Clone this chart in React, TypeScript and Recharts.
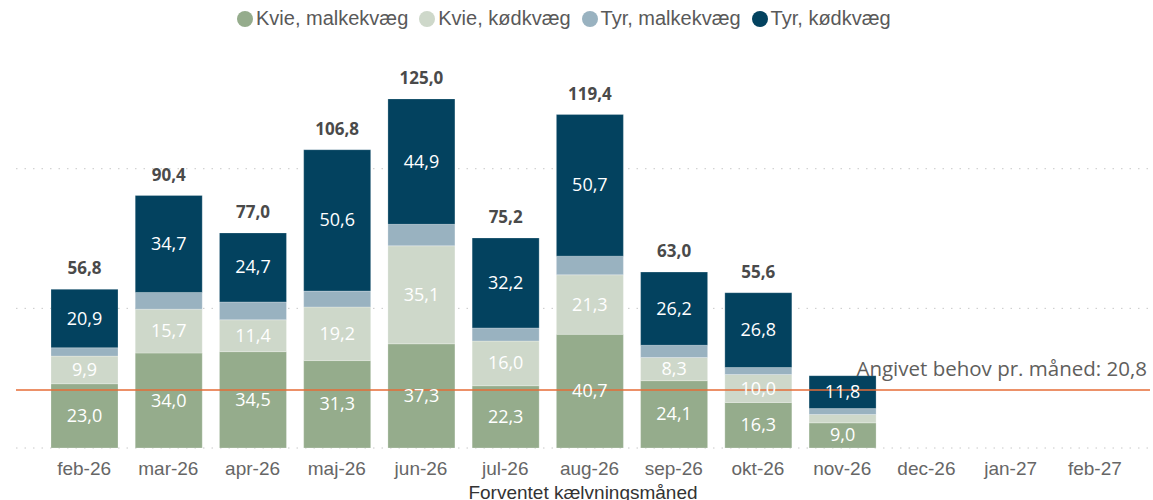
import { BarChart, Bar, XAxis, YAxis, CartesianGrid, ReferenceLine, LabelList } from 'recharts';

const months = ['feb-26', 'mar-26', 'apr-26', 'maj-26', 'jun-26', 'jul-26', 'aug-26', 'sep-26', 'okt-26', 'nov-26', 'dec-26', 'jan-27', 'feb-27'];
const kvieMalk = [23.0, 34.0, 34.5, 31.3, 37.3, 22.3, 40.7, 24.1, 16.3, 9.0, null, null, null];
const kvieKod = [9.9, 15.7, 11.4, 19.2, 35.1, 16.0, 21.3, 8.3, 10.0, 3.0, null, null, null];
const tyrMalk = [3.0, 6.0, 6.4, 5.7, 7.7, 4.7, 6.7, 4.4, 2.5, 2.1, null, null, null];
const tyrKod = [20.9, 34.7, 24.7, 50.6, 44.9, 32.2, 50.7, 26.2, 26.8, 11.8, null, null, null];
const totals = [56.8, 90.4, 77.0, 106.8, 125.0, 75.2, 119.4, 63.0, 55.6, null, null, null, null];
const behov = 20.8;

const COLORS = ['#95AC8C', '#CED8CA', '#99B2C0', '#03425F'];
const NAMES = ['Kvie, malkekvæg', 'Kvie, kødkvæg', 'Tyr, malkekvæg', 'Tyr, kødkvæg'];
const FONT = '"Open Sans", "Segoe UI", sans-serif';
const ARIAL = '"Liberation Sans", Arial, sans-serif';

const data = months.map((m, i) => ({
  month: m,
  kvieMalk: kvieMalk[i],
  kvieKod: kvieKod[i],
  tyrMalk: tyrMalk[i],
  tyrKod: tyrKod[i],
  total: totals[i],
}));

const fmt = (v: number) => v.toFixed(1).replace('.', ',');

const SegmentLabel = (props: any) => {
  const { x, y, width, height, value } = props;
  if (value == null || value < 8) return null;
  return (
    <text x={x + width / 2} y={y + height / 2} dy={6} textAnchor="middle" fill="#ffffff" fontSize={18} fontFamily={FONT}>
      {fmt(value)}
    </text>
  );
};

const TotalLabel = (props: any) => {
  const { x, y, width, value } = props;
  if (value == null) return null;
  return (
    <text x={x + width / 2} y={y - 15} textAnchor="middle" fill="#4a4a4a" fontSize={17} fontWeight="bold" fontFamily={FONT}>
      {fmt(value)}
    </text>
  );
};

const BehovLabel = (props: any) => {
  const { viewBox } = props;
  if (!viewBox) return null;
  return (
    <text x={viewBox.x + viewBox.width - 3} y={viewBox.y - 14} textAnchor="end" fill="#605E5C" fontSize={20.5} fontFamily={FONT}>
      {`Angivet behov pr. måned: ${fmt(behov)}`}
    </text>
  );
};

const App = () => {
  return (
    <div style={{ position: 'relative', width: 1153, height: 500 }}>
      <style>{`body{margin:0}`}</style>
      <div style={{ position: 'absolute', top: 7, left: 237, display: 'flex', alignItems: 'center', fontSize: 20, color: '#595959', fontFamily: ARIAL, whiteSpace: 'nowrap' }}>
        {NAMES.map((n, i) => (
          <div key={n} style={{ display: 'flex', alignItems: 'center', marginRight: 11 }}>
            <span style={{ display: 'inline-block', width: 16, height: 16, borderRadius: 8, background: COLORS[i], marginRight: 3 }} />
            <span>{n}</span>
          </div>
        ))}
      </div>
      <BarChart width={1153} height={500} data={data} margin={{ top: 57, right: 3, bottom: 0, left: 16 }}>
        <CartesianGrid vertical={false} horizontalValues={[0, 50, 100]} stroke="#c8c8c8" strokeDasharray="1.5 7" />
        <XAxis
          dataKey="month"
          height={52}
          padding={{ left: 26, right: 13 }}
          tickLine={false}
          axisLine={false}
          interval={0}
          tickMargin={8}
          tick={{ fill: '#666666', fontSize: 19, fontFamily: ARIAL }}
          label={{ value: 'Forventet kælvningsmåned', position: 'insideBottom', offset: 1, fill: '#333333', fontSize: 19, fontFamily: ARIAL }}
        />
        <YAxis hide domain={[0, 140]} ticks={[0, 50, 100]} />
        <Bar dataKey="kvieMalk" name={NAMES[0]} stackId="a" fill={COLORS[0]} barSize={67} stroke="#ffffff" strokeOpacity={0.4} strokeWidth={0.6} isAnimationActive={false}>
          <LabelList dataKey="kvieMalk" content={<SegmentLabel />} />
        </Bar>
        <Bar dataKey="kvieKod" name={NAMES[1]} stackId="a" fill={COLORS[1]} barSize={67} stroke="#ffffff" strokeOpacity={0.4} strokeWidth={0.6} isAnimationActive={false}>
          <LabelList dataKey="kvieKod" content={<SegmentLabel />} />
        </Bar>
        <Bar dataKey="tyrMalk" name={NAMES[2]} stackId="a" fill={COLORS[2]} barSize={67} stroke="#ffffff" strokeOpacity={0.4} strokeWidth={0.6} isAnimationActive={false} />
        <Bar dataKey="tyrKod" name={NAMES[3]} stackId="a" fill={COLORS[3]} barSize={67} stroke="#ffffff" strokeOpacity={0.4} strokeWidth={0.6} isAnimationActive={false}>
          <LabelList dataKey="tyrKod" content={<SegmentLabel />} />
          <LabelList dataKey="total" content={<TotalLabel />} />
        </Bar>
        <ReferenceLine y={behov} stroke="#E66C37" strokeWidth={1.5} label={<BehovLabel />} />
      </BarChart>
    </div>
  );
};

export default App;
